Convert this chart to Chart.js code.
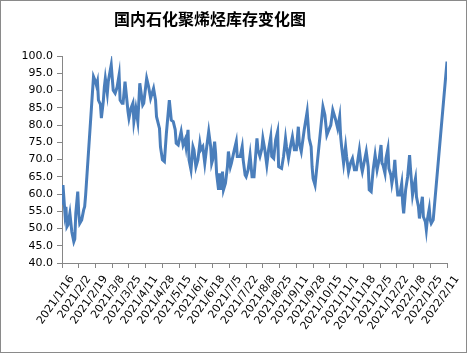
<!DOCTYPE html>
<html>
<head>
<meta charset="utf-8">
<script src="https://cdn.jsdelivr.net/npm/chart.js@4"></script>
<style>
  html, body { margin: 0; padding: 0; background: #fff; }
  #wrap { position: relative; width: 467px; height: 353px; }
  #chart { position: absolute; left: 0; top: 0; }
  #frame { position: absolute; left: 0; top: 0; width: 467px; height: 353px; box-sizing: border-box; border: 1px solid #8a8a8a; pointer-events: none; }
  #title { position: absolute; left: 114px; top: 10px; font: bold 16px/16px "Noto Sans CJK SC", sans-serif; color: #000; white-space: nowrap; }
</style>
</head>
<body>
<div id="wrap">
  <canvas id="chart" width="467" height="353"></canvas>
  <div id="title">国内石化聚烯烃库存变化图</div>
  <div id="frame"></div>
</div>
<script>
// 数据：日期 + 库存（万吨）
const dates = [
  '2021/1/16','2021/1/17','2021/1/19','2021/1/20','2021/1/21','2021/1/22','2021/1/24','2021/1/26','2021/1/28','2021/1/29','2021/1/30',
  '2021/2/1','2021/2/2','2021/2/3','2021/2/5','2021/2/7','2021/2/8','2021/2/9','2021/2/17','2021/2/19','2021/2/20','2021/2/21','2021/2/22','2021/2/24','2021/2/25','2021/2/27','2021/2/28',
  '2021/3/1','2021/3/3','2021/3/4','2021/3/7','2021/3/9','2021/3/11','2021/3/13','2021/3/15','2021/3/16','2021/3/18','2021/3/19','2021/3/21','2021/3/24','2021/3/25','2021/3/27','2021/3/29','2021/3/30',
  '2021/4/1','2021/4/3','2021/4/5','2021/4/8','2021/4/9','2021/4/12','2021/4/14','2021/4/16','2021/4/19','2021/4/21','2021/4/22','2021/4/25','2021/4/26','2021/4/28','2021/4/30',
  '2021/5/2','2021/5/5','2021/5/7','2021/5/9','2021/5/11','2021/5/12','2021/5/14','2021/5/17','2021/5/19','2021/5/21','2021/5/22','2021/5/24','2021/5/25','2021/5/27','2021/5/29','2021/5/30',
  '2021/6/1','2021/6/3','2021/6/5','2021/6/6','2021/6/8','2021/6/10','2021/6/12','2021/6/14','2021/6/16','2021/6/17','2021/6/18','2021/6/20','2021/6/21','2021/6/22','2021/6/24','2021/6/25','2021/6/27','2021/6/28','2021/6/29',
  '2021/7/1','2021/7/3','2021/7/4','2021/7/6','2021/7/7','2021/7/10','2021/7/12','2021/7/13','2021/7/16','2021/7/18','2021/7/19','2021/7/21','2021/7/22','2021/7/24','2021/7/26','2021/7/28','2021/7/30',
  '2021/8/2','2021/8/3','2021/8/5','2021/8/7','2021/8/8','2021/8/10','2021/8/12','2021/8/14','2021/8/16','2021/8/17','2021/8/19','2021/8/21','2021/8/23','2021/8/24','2021/8/27','2021/8/29','2021/8/31',
  '2021/9/1','2021/9/3','2021/9/5','2021/9/7','2021/9/9','2021/9/11','2021/9/13','2021/9/14','2021/9/16','2021/9/19','2021/9/22','2021/9/24','2021/9/26','2021/9/27','2021/9/28','2021/9/30',
  '2021/10/8','2021/10/10','2021/10/12','2021/10/14','2021/10/16','2021/10/18','2021/10/20','2021/10/21','2021/10/23','2021/10/25','2021/10/26','2021/10/27','2021/10/29','2021/10/31',
  '2021/11/1','2021/11/3','2021/11/5','2021/11/7','2021/11/9','2021/11/11','2021/11/14','2021/11/16','2021/11/17','2021/11/19','2021/11/21','2021/11/23','2021/11/24','2021/11/26','2021/11/28','2021/11/30',
  '2021/12/2','2021/12/4','2021/12/6','2021/12/7','2021/12/8','2021/12/10','2021/12/11','2021/12/13','2021/12/14','2021/12/16','2021/12/17','2021/12/19','2021/12/20','2021/12/21','2021/12/23','2021/12/25','2021/12/27','2021/12/28','2021/12/29','2021/12/31',
  '2022/1/2','2022/1/4','2022/1/5','2022/1/7','2022/1/9','2022/1/10','2022/1/11','2022/1/13','2022/1/14','2022/1/15','2022/1/17','2022/1/18','2022/1/20','2022/1/21','2022/1/22','2022/1/24','2022/1/25','2022/1/26','2022/1/28',
  '2022/2/11'
];

const stock = [
  57.3, 62.6, 54.4, 56.3, 50.5, 51, 54.4, 49, 46.2, 47, 54.4,
  60.7, 54.4, 51.5, 52.5, 55.4, 56.3, 59.7, 94, 92.6, 91.5, 92.6, 87.2, 86, 82, 87, 91,
  93.5, 89.2, 92.6, 97.4, 90.1, 89.2, 91, 94.5, 87.2, 86.3, 86.3, 92.6, 84, 82, 84.8, 86.3, 81,
  84.8, 81, 92.1, 85.8, 86.3, 93.5, 91.1, 87.7, 90.6, 87.2, 82.4, 79, 73.7, 69.9, 69.4,
  77.6, 87.2, 81.4, 81, 78.6, 74.7, 74.2, 78.1, 74.2, 75.7, 73.7, 78.6, 69.9, 67, 73.7, 72.8,
  67.9, 69.9, 74.7, 72.8, 73.7, 68.9, 73.7, 78.1, 73.7, 68.9, 69.9, 75.2, 71.8, 66, 61.2, 66, 61.2, 66.5, 61.2,
  63.1, 67.9, 72.3, 67.9, 68.9, 72.8, 75.2, 70.9, 70.9, 73.7, 69.9, 65.5, 65, 67, 71.3, 65, 65,
  76.1, 72.8, 70.9, 73.2, 76.1, 72.8, 68.4, 73.2, 76.6, 70.9, 70.3, 75.7, 78.1, 67.9, 67.4, 70.9, 76.1,
  73.7, 70.3, 73.7, 76.6, 72.8, 72.8, 79.5, 74.7, 72.3, 78.6, 83.9, 76.1, 73.7, 67.9, 64.5, 62.6,
  85.3, 82.9, 77.1, 78.6, 80, 84.3, 82.4, 81.4, 79, 82.4, 76.6, 73.7, 68.9, 73.7,
  70.9, 66.5, 68.9, 70.3, 67, 67, 72.8, 67.9, 66.5, 69.4, 72.3, 67.9, 61.2, 60.7, 67, 71.3,
  67, 69.9, 74.2, 68.9, 68.4, 66, 70.3, 73.2, 67.4, 65.5, 63.1, 66.5, 69.9, 65.5, 59.7, 59.7, 63.1, 57.3, 54.4, 61.2,
  65, 71.3, 67, 59.7, 63.1, 64.5, 59.2, 56.3, 52.9, 55.4, 59.2, 53.4, 52, 49.6, 52.5, 55.8, 52.5, 51.5, 52.5,
  98.4
];

// 横轴刻度（每17天一个）
const tickLabels = [
  '2021/1/16','2021/2/2','2021/2/19','2021/3/8','2021/3/25','2021/4/11','2021/4/28','2021/5/15',
  '2021/6/1','2021/6/18','2021/7/5','2021/7/22','2021/8/8','2021/8/25','2021/9/11','2021/9/28',
  '2021/10/15','2021/11/1','2021/11/18','2021/12/5','2021/12/22','2022/1/8','2022/1/25','2022/2/11'
];
const tickStep = 17;

const startDay = Date.UTC(2021, 0, 16);
function dayOffset(s) {
  const [y, m, d] = s.split('/').map(Number);
  return (Date.UTC(y, m - 1, d) - startDay) / 86400000;
}

const points = dates.map((d, i) => ({ x: dayOffset(d), y: stock[i] }));

const axisColor = '#868686';
const tickFont = { family: '"DejaVu Sans", sans-serif', size: 11 };

new Chart(document.getElementById('chart'), {
  type: 'line',
  data: {
    datasets: [{
      data: points,
      borderColor: '#4A7EBB',
      borderWidth: 3,
      pointRadius: 0,
      tension: 0,
      fill: false
    }]
  },
  options: {
    responsive: false,
    animation: false,
    layout: { padding: { top: 56, right: 20, left: 0, bottom: 0 } },
    plugins: {
      legend: { display: false },
      title: { display: false },
      tooltip: { enabled: false }
    },
    scales: {
      x: {
        type: 'linear',
        min: 0,
        max: dayOffset(tickLabels[tickLabels.length - 1]),
        afterFit: (s) => { s.height = 90; },
        afterBuildTicks: (s) => { s.ticks = tickLabels.map((_, i) => ({ value: i * tickStep })); },
        grid: { drawOnChartArea: false, color: axisColor, tickLength: 5 },
        border: { color: axisColor, width: 1 },
        ticks: {
          autoSkip: false,
          minRotation: 55,
          maxRotation: 55,
          labelOffset: 10,
          padding: 5,
          color: '#000',
          font: tickFont,
          callback: (v) => tickLabels[Math.round(v / tickStep)]
        }
      },
      y: {
        min: 40,
        max: 100,
        afterFit: (s) => { s.width = 62; },
        grid: { drawOnChartArea: false, color: axisColor, tickLength: 5 },
        border: { color: axisColor, width: 1 },
        ticks: {
          stepSize: 5,
          padding: 4,
          color: '#000',
          font: tickFont,
          callback: (v) => v.toFixed(1)
        }
      }
    }
  }
});
</script>
</body>
</html>
